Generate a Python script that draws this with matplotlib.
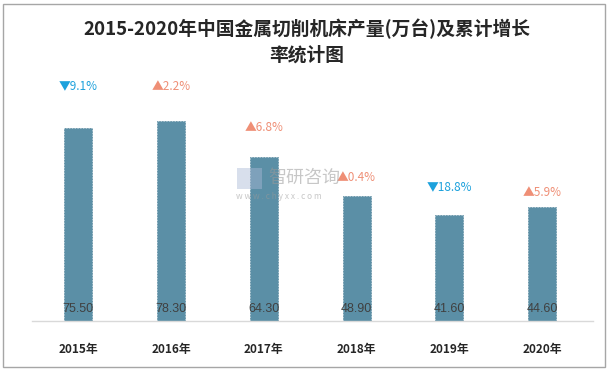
import matplotlib.pyplot as plt
from matplotlib.patches import Rectangle

# 数据
years = ['2015年', '2016年', '2017年', '2018年', '2019年', '2020年']
output = [75.50, 78.30, 64.30, 48.90, 41.60, 44.60]
growth = [-9.1, 2.2, 6.8, 0.4, -18.8, 5.9]
growth_pos = [91.9, 91.9, 75.5, 56.3, 52.4, 50.1]  # 增长率标签所在高度

plt.rcParams['font.family'] = ['Noto Sans CJK SC', 'DejaVu Sans']

fig = plt.figure(figsize=(6.14, 3.70), dpi=100)
ax = fig.add_axes([0.052, 0.1324, 0.914, 0.691])

x = list(range(len(years)))
ax.bar(x, output, width=0.3, color='#5b8fa6', edgecolor='#52849a',
       linestyle=(0, (2, 2)), linewidth=0.5)

for i, v in enumerate(output):
    ax.text(i, 2.5, f'{v:.2f}', ha='center', va='bottom', fontsize=9,
            color='#404040', family=['Liberation Sans', 'DejaVu Sans'])

for i, g in enumerate(growth):
    if g < 0:
        txt, col = f'▼{abs(g):.1f}%', '#1da1dc'
    else:
        txt, col = f'▲{g:.1f}%', '#ef8f76'
    ax.text(i, growth_pos[i], txt, ha='center', va='center', fontsize=8.5, color=col)

ax.set_xlim(-0.5, 5.55)
ax.set_ylim(0, 100)
ax.set_yticks([])
ax.set_xticks(x)
ax.set_xticklabels(years, fontsize=8.5, fontweight='bold', color='#262626')
ax.tick_params(axis='x', length=0, pad=16)
for s in ['top', 'right', 'left']:
    ax.spines[s].set_visible(False)
ax.spines['bottom'].set_color('#d9d9d9')
ax.spines['bottom'].set_linewidth(1)

# 水印
fig.text(0.437, 0.518, '智研咨询', fontsize=13, color='#9a9a9a', alpha=0.55, ha='left', va='center')
fig.text(0.385, 0.468, 'w w w . c h y x x . c o m', fontsize=6, color='#9a9a9a', alpha=0.55,
         ha='left', va='center')
fig.patches.append(Rectangle((0.386, 0.49), 0.04, 0.055, transform=fig.transFigure,
                             facecolor='#a9b9d6', alpha=0.45, edgecolor='none'))

fig.text(0.5, 0.922, '2015-2020年中国金属切削机床产量(万台)及累计增长', ha='center', va='center',
         fontsize=13.5, fontweight='bold', color='#262626')
fig.text(0.5, 0.852, '率统计图', ha='center', va='center', fontsize=13.5, fontweight='bold',
         color='#262626')

fig.patches.append(Rectangle((0.005, 0.008), 0.98, 0.982, transform=fig.transFigure,
                             fill=False, edgecolor='#a6a6a6', linewidth=1))

fig.savefig('out.png', dpi=100)
